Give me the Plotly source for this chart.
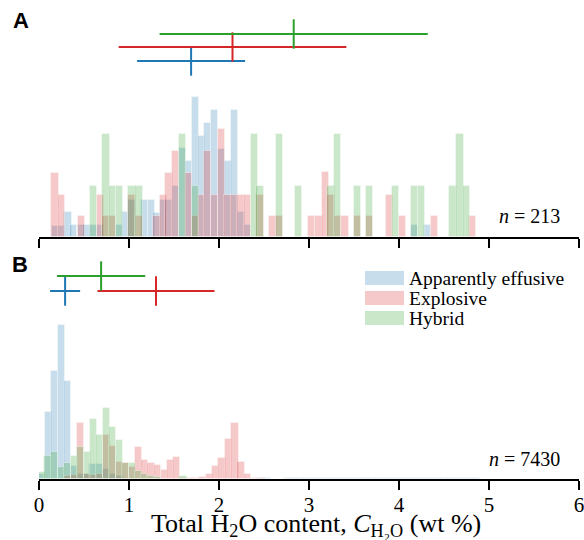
import plotly.graph_objects as go

# ---------------- Data ----------------
groups = ["Apparently effusive", "Explosive", "Hybrid"]
colors = ["#1f77b4", "#d62728", "#2ca02c"]

# Panel A : histogram bars (bin centre, relative height)
a_eff_x = [0.18, 0.247, 0.322, 0.385, 0.468, 0.53, 0.60, 0.684, 0.895, 0.96, 1.033,
           1.17, 1.25, 1.31, 1.38, 1.445, 1.52, 1.595, 1.665, 1.735, 1.805, 1.875,
           1.95, 2.03, 2.10, 2.17, 2.245, 2.32, 4.175, 4.32]
a_eff_h = [11, 11, 25, 12, 12, 12, 12, 12, 12, 25, 37,
           37, 37, 24, 37, 37, 51, 89, 76, 140, 101, 114,
           127, 88, 76, 127, 25, 12, 12, 12]

a_exp_x = [0.178, 0.247, 0.468, 0.684, 0.745, 0.82, 1.033, 1.11, 1.31, 1.38, 1.445,
           1.52, 1.665, 1.735, 1.805, 1.875, 1.95, 2.03, 2.10, 2.17, 2.245, 2.32,
           2.455, 2.60, 2.675, 3.03, 3.11, 3.18, 3.245, 3.32, 3.40, 3.535, 3.675,
           3.89, 4.035, 4.39, 4.82]
a_exp_h = [64, 42, 21, 42, 21, 21, 42, 21, 21, 42, 64,
           86, 64, 21, 42, 86, 42, 108, 42, 42, 42, 42,
           42, 21, 21, 21, 21, 65, 42, 21, 21, 21, 21,
           42, 21, 21, 21]

a_hyb_x = [0.607, 0.745, 0.817, 0.896, 1.033, 1.11, 1.595, 1.735, 2.39, 2.455, 2.675,
           2.887, 3.245, 3.32, 3.535, 3.675, 3.96, 4.17, 4.25, 4.60, 4.677, 4.752]
a_hyb_h = [51, 103, 51, 51, 51, 51, 103, 51, 103, 51, 103,
           51, 51, 103, 51, 51, 51, 51, 51, 51, 103, 51]

# Panel B : histogram bars
b_eff_x = [0.03, 0.107, 0.176, 0.246, 0.32, 0.39, 0.46, 0.53, 0.60, 0.67, 0.745, 0.82,
           0.90, 2.47, 2.54, 2.76, 2.83, 2.90, 2.97, 3.05, 3.12, 3.19, 3.26, 3.34, 3.41,
           3.48, 3.56, 3.63, 3.70, 3.77, 3.85, 3.92, 3.99, 4.06, 4.14, 4.21, 4.28, 4.35,
           4.43, 4.50, 4.57, 4.64, 4.72, 4.79, 4.86]
b_eff_h = [5, 67, 108, 154, 98, 13, 5, 5, 15, 15, 10, 5,
           3, 1.2, 1.2, 1.2, 1.2, 1.2, 1.2, 1.2, 1.2, 1.2, 1.2, 1.2, 1.2,
           1.2, 1.2, 1.2, 1.2, 1.2, 1.2, 1.2, 1.2, 1.2, 1.2, 1.2, 1.2, 1.2,
           1.2, 1.2, 1.2, 1.2, 1.2, 1.2, 1.2]

b_exp_x = [0.32, 0.39, 0.463, 0.535, 0.60, 0.67, 0.746, 0.82, 0.89, 0.963, 1.04, 1.105,
           1.17, 1.245, 1.32, 1.39, 1.46, 1.525, 1.60, 1.67, 1.74, 1.82, 1.895, 1.96,
           2.033, 2.107, 2.178, 2.245, 2.32, 2.39, 2.47]
b_exp_h = [3, 4, 56, 5, 4, 5, 44, 33, 17, 16, 12, 32,
           19, 16, 14, 9, 19, 22, 1, 1, 1, 2, 5, 13,
           21, 40, 56, 17, 5, 1, 1]

b_hyb_x = [0.033, 0.10, 0.176, 0.25, 0.315, 0.39, 0.463, 0.535, 0.605, 0.674, 0.746,
           0.82, 0.89, 0.963, 1.04, 1.105, 1.17, 1.245, 1.32, 1.60]
b_hyb_h = [7, 23, 27, 12, 16, 23, 32, 27, 60, 44, 71,
           52, 39, 16, 16, 8, 5, 3, 2, 3]

# Mean and standard deviation of water content per group
a_mean = [1.69, 2.15, 2.83]
a_std = [0.60, 1.265, 1.49]
b_mean = [0.29, 1.30, 0.69]
b_std = [0.167, 0.65, 0.49]

n_labels = ["<i>n</i> = 213", "<i>n</i> = 7430"]
tick_vals = [0, 1, 2, 3, 4, 5, 6]
x_title = "Total H<sub>2</sub>O content, <i>C</i><sub>H₂O</sub> (wt %)"

# ---------------- Styling / layout constants ----------------
W, H = 584, 540
ML, MR, MT, MB = 39, 5, 0, 61
PH = H - MT - MB            # plot-area height (479)
PW = W - ML - MR            # plot-area width (540)
A_BASE = 237                # pixel row of panel A baseline
B_TOP = 250                 # pixel row of panel B top
a_levels = [176, 190, 203]  # error-bar rows in panel A (px above baseline)
b_levels = [188, 188, 203]  # error-bar rows in panel B
BAR_W = 0.08
SERIF = "Liberation Serif, Times New Roman, serif"


def fill(c, a=0.25):
    c = c.lstrip("#")
    r, g, b = int(c[0:2], 16), int(c[2:4], 16), int(c[4:6], 16)
    return f"rgba({r},{g},{b},{a})"


def px_x(p):
    return (p - ML) / PW


def px_y(p):
    return (PH - p) / PH


fig = go.Figure()

panelA = [(a_eff_x, a_eff_h), (a_exp_x, a_exp_h), (a_hyb_x, a_hyb_h)]
panelB = [(b_eff_x, b_eff_h), (b_exp_x, b_exp_h), (b_hyb_x, b_hyb_h)]

for axes, panel in [(("x", "y"), panelA), (("x2", "y2"), panelB)]:
    for i, (xs, hs) in enumerate(panel):
        fig.add_trace(go.Bar(
            x=xs, y=hs, width=BAR_W, xaxis=axes[0], yaxis=axes[1],
            marker=dict(color=fill(colors[i]),
                        line=dict(width=1, color="rgba(255,255,255,0.35)")),
            name=groups[i], showlegend=False, hoverinfo="skip"))

for axes, means, stds, levels in [(("x", "y"), a_mean, a_std, a_levels),
                                  (("x2", "y2"), b_mean, b_std, b_levels)]:
    for i in range(3):
        fig.add_trace(go.Scatter(
            x=[means[i]], y=[levels[i]], xaxis=axes[0], yaxis=axes[1],
            mode="markers",
            marker=dict(symbol="line-ns", size=21,
                        line=dict(width=2, color=colors[i]), color=colors[i]),
            error_x=dict(type="data", array=[stds[i]], symmetric=True,
                         width=0, thickness=2, color=colors[i]),
            showlegend=False, hoverinfo="skip"))

axis_common = dict(range=[0, 6], showline=True, linewidth=2, linecolor="black",
                   ticks="outside", ticklen=9, tickwidth=2, tickcolor="black",
                   tickvals=tick_vals, showgrid=False, zeroline=False, domain=[0, 1])

fig.update_layout(
    width=W, height=H, margin=dict(l=ML, r=MR, t=MT, b=MB),
    paper_bgcolor="white", plot_bgcolor="rgba(0,0,0,0)",
    barmode="overlay", bargap=0,
    font=dict(family=SERIF, color="black"),
    xaxis=dict(anchor="y", showticklabels=False, **axis_common),
    yaxis=dict(domain=[px_y(A_BASE), 1], range=[0, A_BASE], visible=False),
    xaxis2=dict(anchor="y2", showticklabels=True, ticklabelstandoff=-3,
                ticklabeloverflow="allow",
                tickfont=dict(family=SERIF, size=21, color="black"),
                **axis_common),
    yaxis2=dict(domain=[0, px_y(B_TOP)], range=[0, PH - B_TOP], visible=False),
)

# x-axis title
fig.add_annotation(text=x_title, xref="paper", yref="paper", x=px_x(316), y=px_y(524.5),
                   xanchor="center", yanchor="middle", showarrow=False,
                   font=dict(family=SERIF, size=26, color="black"))

# panel letters
for letter, (cx, cy) in zip(["A", "B"], [(21, 21), (20, 264)]):
    fig.add_annotation(text=f"<b>{letter}</b>", xref="paper", yref="paper",
                       x=px_x(cx), y=px_y(cy), xanchor="center", yanchor="middle",
                       showarrow=False, font=dict(family="Liberation Sans, Arial", size=22))

# sample sizes
fig.add_annotation(text=n_labels[0], xref="x", yref="y", x=5.81, y=21,
                   xanchor="right", yanchor="middle", showarrow=False,
                   font=dict(family=SERIF, size=20))
fig.add_annotation(text=n_labels[1], xref="x2", yref="y2", x=5.81, y=20,
                   xanchor="right", yanchor="middle", showarrow=False,
                   font=dict(family=SERIF, size=20))

# custom legend in panel B
leg_rows = [(271, 285), (291, 305), (311, 325)]
for i, (t, b) in enumerate(leg_rows):
    fig.add_shape(type="rect", xref="paper", yref="paper",
                  x0=px_x(365), x1=px_x(404), y0=px_y(b), y1=px_y(t),
                  line=dict(width=0), fillcolor=fill(colors[i]))
    fig.add_annotation(text=groups[i], xref="paper", yref="paper",
                       x=px_x(407), y=px_y((t + b) / 2), xanchor="left", yanchor="middle",
                       showarrow=False, font=dict(family=SERIF, size=19.5))

fig.write_html("out.html", config={"displayModeBar": False},
               post_script="document.body.style.margin='0';document.body.style.overflow='hidden';")
